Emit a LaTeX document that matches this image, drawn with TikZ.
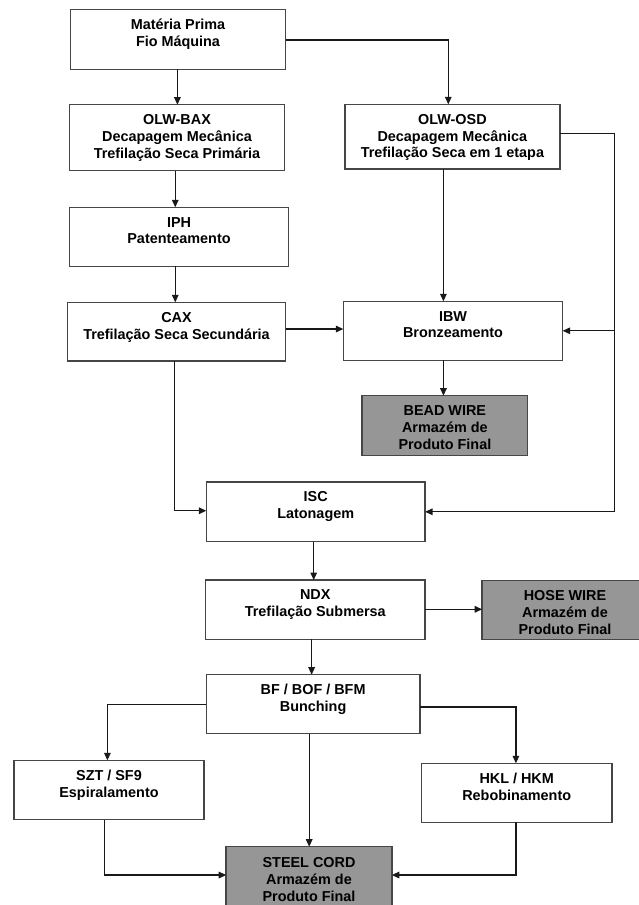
\documentclass[tikz,border=0pt]{standalone}
\usepackage{fontspec}
\setmainfont{Liberation Sans}
\usetikzlibrary{arrows.meta}
\definecolor{fillg}{RGB}{150,150,150}
\definecolor{edgec}{RGB}{70,70,70}
\definecolor{wirec}{RGB}{25,25,25}
\begin{document}
\begin{tikzpicture}[x=0.75pt,y=-0.75pt,
  box/.style={draw=edgec,line width=1.1pt,fill=white,inner sep=0pt,outer sep=0pt},
  gbox/.style={box,fill=fillg},
  sz/.style 2 args={minimum width=#1*0.75pt,minimum height=#2*0.75pt},
  txt/.style={anchor=north,align=center,inner sep=0pt,
    font=\fontsize{10.8pt}{12.6pt}\selectfont\bfseries,
    execute at begin node={\rule{0pt}{10.5pt}}},
  arr/.style={draw=wirec,line width=0.9pt,-{Triangle[length=5.6pt,width=4.9pt]}}]
\fill[white] (0,0) rectangle (638,905);
\useasboundingbox (0,0) rectangle (638,905);

% boxes
\node[box,sz={215.2}{60}]   (mp)    at (178,39.3) {};
\node[box,sz={214.8}{66}]   (bax)   at (177,137.7) {};
\node[box,sz={214.8}{64.7}] (osd)   at (452.4,136.7) {};
\node[box,sz={218.8}{59}]   (iph)   at (179,236.8) {};
\node[box,sz={218}{58.7}]   (cax)   at (176.5,331.7) {};
\node[box,sz={219.3}{59}]   (ibw)   at (453,330.8) {};
\node[gbox,sz={165.7}{59.6}] (bead) at (444.9,425.5) {};
\node[box,sz={218.8}{59.7}] (isc)   at (315.7,511.8) {};
\node[box,sz={219.6}{59.3}] (ndx)   at (315.3,609.7) {};
\node[gbox,sz={165.7}{58.6}] (hose) at (565,610) {};
\node[box,sz={213.6}{59}]   (bf)    at (313.1,704.2) {};
\node[box,sz={190.4}{59.4}] (szt)   at (109,790) {};
\node[box,sz={190.4}{59}]   (hkl)   at (516.7,792.8) {};
\node[gbox,sz={165.6}{59.6}] (steel) at (309,876.5) {};

% texts
\node[txt] (mp-t)    at ([yshift=-7.15pt]mp.north)    {Matéria Prima\\Fio Máquina};
\node[txt] (bax-t)   at ([yshift=-7.15pt]bax.north)   {OLW-BAX\\Decapagem Mecânica\\Trefilação Seca Primária};
\node[txt] (osd-t)   at ([yshift=-7.15pt]osd.north)   {OLW-OSD\\Decapagem Mecânica\\Trefilação Seca em 1 etapa};
\node[txt] (iph-t)   at ([yshift=-7.15pt]iph.north)   {IPH\\Patenteamento};
\node[txt] (cax-t)   at ([yshift=-7.15pt]cax.north)   {CAX\\Trefilação Seca Secundária};
\node[txt] (ibw-t)   at ([yshift=-7.15pt]ibw.north)   {IBW\\Bronzeamento};
\node[txt] (bead-t)  at ([yshift=-7.15pt]bead.north)  {BEAD WIRE\\Armazém de\\Produto Final};
\node[txt] (isc-t)   at ([yshift=-7.15pt]isc.north)   {ISC\\Latonagem};
\node[txt] (ndx-t)   at ([yshift=-7.15pt]ndx.north)   {NDX\\Trefilação Submersa};
\node[txt] (hose-t)  at ([yshift=-7.15pt]hose.north)  {HOSE WIRE\\Armazém de\\Produto Final};
\node[txt] (bf-t)    at ([yshift=-7.15pt]bf.north)    {BF / BOF / BFM\\Bunching};
\node[txt] (szt-t)   at ([yshift=-7.15pt]szt.north)   {SZT / SF9\\Espiralamento};
\node[txt] (hkl-t)   at ([yshift=-7.15pt]hkl.north)   {HKL / HKM\\Rebobinamento};
\node[txt] (steel-t) at ([yshift=-8pt]steel.north)    {STEEL CORD\\Armazém de\\Produto Final};

\coordinate (rail) at (614.3,0);

% connectors
\draw[arr] ([xshift=-0.45pt]mp.south) -- ([xshift=-0.45pt]mp.south |- bax.north);
\draw[arr] ([yshift=-0.5pt]mp.east) -| ([xshift=-3.1pt]osd.north);
\draw[arr] ([xshift=-1.3pt]bax.south) -- ([xshift=-1.3pt]bax.south |- iph.north);
\draw[arr] ([xshift=-2.8pt]iph.south) -- ([xshift=-2.8pt]iph.south |- cax.north);
\draw[arr] ([xshift=-6.75pt]osd.south) -- ([xshift=-6.75pt]osd.south |- ibw.north);
\draw[arr] ([yshift=2.25pt]osd.east) -| (rail |- isc.east) -- (isc.east);
\draw[arr] (rail |- ibw.east) -- (ibw.east);
\draw[arr] ([yshift=2pt]cax.east) -- ([yshift=2pt]cax.east -| ibw.west);
\draw[arr] ([xshift=-1.1pt]bead.north |- ibw.south) -- ([xshift=-1.1pt]bead.north);
\draw[arr] ([xshift=-1.8pt]cax.south) |- ([yshift=0.8pt]isc.west);
\draw[arr] ([xshift=-1.5pt]isc.south) -- ([xshift=-1.5pt]isc.south |- ndx.north);
\draw[arr] ([yshift=0.3pt]ndx.east) -- ([yshift=0.3pt]ndx.east -| hose.west);
\draw[arr] ([xshift=-1.1pt]bf.north |- ndx.south) -- ([xshift=-1.1pt]bf.north);
\draw[arr] (bf.west) -| ([xshift=-1.2pt]szt.north);
\draw[arr] ([yshift=-2.1pt]bf.east) -| ([xshift=-0.6pt]hkl.north);
\draw[arr] ([xshift=0.15pt]steel.north |- bf.south) -- ([xshift=0.15pt]steel.north);
\draw[arr] ([xshift=-3.3pt]szt.south) |- ([yshift=1.1pt]steel.west);
\draw[arr] ([xshift=-0.6pt]hkl.south) |- ([yshift=1.1pt]steel.east);
\end{tikzpicture}
\end{document}
